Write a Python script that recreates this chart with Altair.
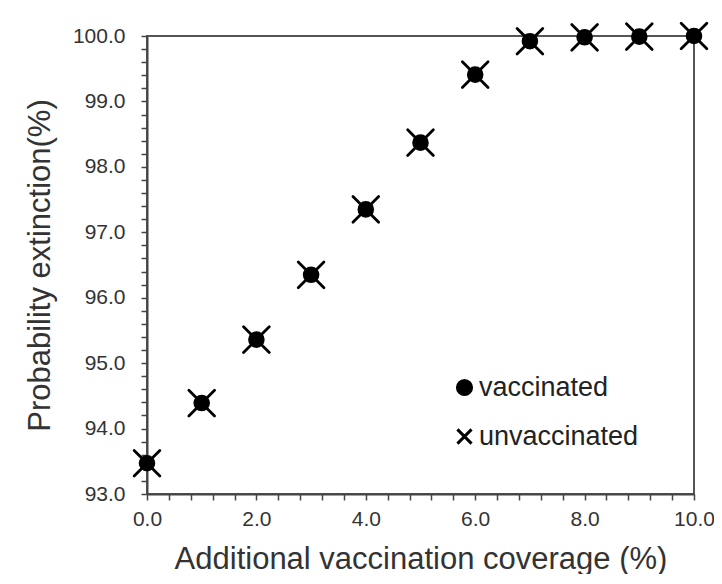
import altair as alt
import pandas as pd

coverage = [0, 1, 2, 3, 4, 5, 6, 7, 8, 9, 10]
vaccinated = [93.47, 94.39, 95.36, 96.35, 97.35, 98.37, 99.41, 99.92, 99.98, 99.99, 100.0]
unvaccinated = [93.47, 94.39, 95.36, 96.35, 97.35, 98.37, 99.41, 99.92, 99.98, 99.99, 100.0]
groups = ["vaccinated", "unvaccinated"]

rows = []
for g, vals in zip(groups, [vaccinated, unvaccinated]):
    for c, v in zip(coverage, vals):
        rows.append({"coverage": c, "prob": v, "group": g})
df = pd.DataFrame(rows)

x_ticks = [round(i * 0.4, 1) for i in range(26)]
y_ticks = [round(93 + 0.2 * i, 1) for i in range(36)]
cross = "M-1,-1L1,1M1,-1L-1,1"
FONT = "Liberation Sans"

legend = alt.Legend(title=None, orient="none", legendX=304, legendY=338,
                    padding=0, symbolSize=200, symbolStrokeWidth=3,
                    labelFontSize=27, labelFont=FONT, labelColor="#222",
                    rowPadding=21, labelOffset=1)

x_enc = alt.X("coverage:Q", scale=alt.Scale(domain=[0, 10], nice=False),
              axis=alt.Axis(title="Additional vaccination coverage (%)", values=x_ticks,
                            labelExpr="datum.value % 2 == 0 ? format(datum.value, '.1f') : ''",
                            labelPadding=8, titlePadding=15))
y_enc = alt.Y("prob:Q", scale=alt.Scale(domain=[93, 100], nice=False, zero=False),
              axis=alt.Axis(title="Probability extinction(%)", values=y_ticks,
                            labelExpr="datum.value % 1 == 0 ? format(datum.value, '.1f') : ''",
                            labelPadding=16, titlePadding=16))
shape_enc = alt.Shape("group:N", scale=alt.Scale(domain=groups, range=["circle", cross]),
                      legend=legend)

base = alt.Chart(df).encode(x=x_enc, y=y_enc, shape=shape_enc)

circles = base.transform_filter(alt.datum.group == "vaccinated").mark_point(
    filled=True, color="black", stroke="black", strokeWidth=2.8, strokeCap="round",
    size=190, opacity=1
)
crosses = base.transform_filter(alt.datum.group == "unvaccinated").mark_point(
    filled=True, color="black", stroke="black", strokeWidth=2.8, strokeCap="round",
    size=660, opacity=1
)

chart = alt.layer(circles, crosses).properties(
    width=547, height=458,
    autosize=alt.AutoSizeParams(type="none"),
    padding={"left": 139, "top": 28, "right": 20, "bottom": 80},
).configure_view(
    stroke="#555", strokeWidth=2
).configure_axis(
    grid=False, domainColor="#444", domainWidth=2, tickColor="#444", tickWidth=1.5,
    tickSize=6, labelFont=FONT, labelFontSize=21, labelColor="#333",
    titleFont=FONT, titleFontSize=31, titleFontWeight="normal", titleColor="#333",
    labelFlush=False, labelOverlap=False
)

chart.save("out.html", embed_options={"renderer": "svg", "actions": False})
